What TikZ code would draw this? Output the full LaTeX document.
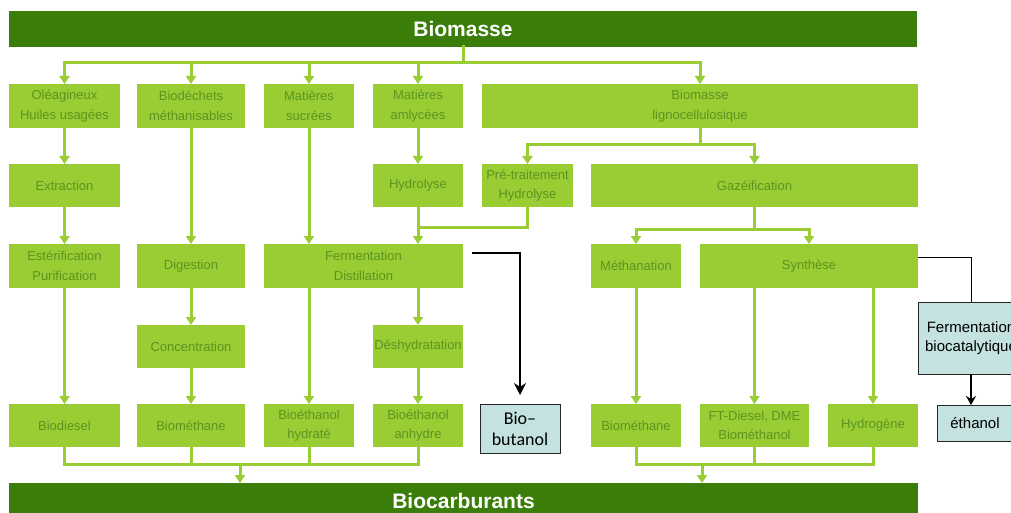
\documentclass[tikz,border=0pt]{standalone}
\usepackage{fontspec}
\setmainfont{Liberation Sans}
\newfontfamily\calib{Carlito}
\usetikzlibrary{arrows.meta,calc}
\definecolor{gfill}{RGB}{154,204,52}
\definecolor{gtext}{RGB}{92,148,32}
\definecolor{gdark}{RGB}{58,125,8}
\definecolor{bfill}{RGB}{196,226,224}
\begin{document}
\begin{tikzpicture}[x=1pt,y=-1pt,
  gbox/.style={fill=gfill, text=gtext, inner sep=0pt, outer sep=0pt, align=center, font=\fontsize{13}{19.5}\selectfont},
  bar/.style={fill=gdark, text=white, inner sep=0pt, outer sep=0pt, font=\fontsize{21}{24}\selectfont\bfseries},
  bbox/.style={fill=bfill, draw=black!85, line width=1pt, inner sep=0pt, outer sep=0pt, align=center},
  gline/.style={draw=gfill, line width=3pt, line cap=rect},
  garr/.style={draw=gfill, line width=3pt, -{Triangle[width=10pt,length=8pt]}},
  barr/.style={draw=black, line width=1.5pt, -{Stealth[width=12pt,length=12pt]}},
  bline/.style={draw=black, line width=1pt},
  barrthick/.style={draw=black, line width=2.5pt, -{Stealth[width=10pt,length=9pt]}}
]
\useasboundingbox (0,0) rectangle (1011,513);
\clip (0,0) rectangle (1011,513);

% bars
\node[bar, minimum width=908pt, minimum height=36pt] (top) at (463,29) {Biomasse};
\node[bar, minimum width=909pt, minimum height=36pt] (bot) at (463.5,501) {Biocarburants};

% row 1
\node[gbox, minimum width=111pt, minimum height=44pt] (ole) at (64.5,106) {Oléagineux\\Huiles usagées};
\node[gbox, minimum width=108pt, minimum height=44pt] (bio) at (191,106) {Biodéchets\\méthanisables};
\node[gbox, minimum width=90pt, minimum height=44pt] (suc) at (309,106) {Matières\\sucrées};
\node[gbox, minimum width=90pt, minimum height=44pt] (amy) at (418,106) {Matières\\amlycées};
\node[gbox, minimum width=436pt, minimum height=44pt] (lig) at (700,106) {Biomasse\\lignocellulosique};

% row 2
\node[gbox, minimum width=111pt, minimum height=43pt] (ext) at (64.5,185.5) {Extraction};
\node[gbox, minimum width=90pt, minimum height=43pt] (hyd) at (418,185.5) {Hydrolyse};
\node[gbox, minimum width=91pt, minimum height=43pt] (pre) at (527.5,185.5) {Pré-traitement\\Hydrolyse};
\node[gbox, minimum width=327pt, minimum height=43pt] (gaz) at (754.5,185.5) {Gazéification};

% row 3
\node[gbox, minimum width=111pt, minimum height=44pt] (est) at (64.5,266) {Estérification\\Purification};
\node[gbox, minimum width=108pt, minimum height=44pt] (dig) at (191,266) {Digestion};
\node[gbox, minimum width=199pt, minimum height=44pt] (fer) at (363.5,266) {Fermentation\\Distillation};
\node[gbox, minimum width=90pt, minimum height=44pt] (met) at (636,266) {Méthanation};
\node[gbox, minimum width=218pt, minimum height=44pt] (syn) at (809,266) {Synthèse};

% row 3b
\node[gbox, minimum width=108pt, minimum height=43pt] (con) at (191,346.5) {Concentration};
\node[gbox, minimum width=90pt, minimum height=43pt] (des) at (418,346.5) {Déshydratation};

% row 4
\node[gbox, minimum width=111pt, minimum height=43pt] (bdi) at (64.5,425.5) {Biodiesel};
\node[gbox, minimum width=108pt, minimum height=43pt] (bme) at (191,425.5) {Biométhane};
\node[gbox, minimum width=90pt, minimum height=43pt] (bhy) at (309,425.5) {Bioéthanol\\hydraté};
\node[gbox, minimum width=90pt, minimum height=43pt] (ban) at (418,425.5) {Bioéthanol\\anhydre};
\node[gbox, minimum width=90pt, minimum height=43pt] (bm2) at (636,425.5) {Biométhane};
\node[gbox, minimum width=109pt, minimum height=43pt] (ftd) at (754.5,425.5) {FT-Diesel, DME\\Biométhanol};
\node[gbox, minimum width=90pt, minimum height=43pt] (hy2) at (873,425.5) {Hydrogène};

% blue boxes
\node[bbox, minimum width=80pt, minimum height=49pt, font=\calib\fontsize{18}{21}\selectfont] (but) at (520,428.5) {Bio–\\butanol};
\node[bbox, minimum width=106pt, minimum height=72pt, font=\fontsize{15}{18.5}\selectfont] (fbc) at (971,338) {Fermentation\\biocatalytique};
\node[bbox, minimum width=76pt, minimum height=36pt, font=\fontsize{15}{18}\selectfont] (eth) at (975,423) {éthanol};

% top branch
\draw[gline] (top.south) -- ++(0,16) coordinate (tj);
\draw[gline] (tj -| ole.north) -- (tj -| lig.north);
\foreach \n in {ole,bio,suc,amy,lig} \draw[garr] (tj -| \n.north) -- (\n.north);

% left columns
\draw[garr] (ole) -- (ext);
\draw[garr] (ext) -- (est);
\draw[garr] (est) -- (bdi);
\draw[garr] (bio) -- (dig);
\draw[garr] (dig) -- (con);
\draw[garr] (con) -- (bme);
\draw[garr] (suc.south) -- (suc.south |- fer.north);
\draw[garr] (amy) -- (hyd);
\draw[garr] (hyd.south) -- (hyd.south |- fer.north);
\draw[gline] (pre.south) |- ($(hyd.south)!0.55!(hyd.south |- fer.north)$);
\draw[garr] (bhy.north |- fer.south) -- (bhy);
\draw[garr] (des.north |- fer.south) -- (des);
\draw[garr] (des) -- (ban);

% lignocellulosic branch
\draw[gline] (lig.south) -- ++(0,17) coordinate (lj);
\draw[gline] (lj -| pre.north) -- (lj -| gaz.north);
\draw[garr] (lj -| pre.north) -- (pre.north);
\draw[garr] (lj -| gaz.north) -- (gaz.north);

% gasification branch
\draw[gline] (gaz.south) -- ++(0,22) coordinate (gj);
\draw[gline] (gj -| met.north) -- (gj -| syn.north);
\draw[garr] (gj -| met.north) -- (met.north);
\draw[garr] (gj -| syn.north) -- (syn.north);
\draw[garr] (met) -- (bm2);
\draw[garr] (ftd.north |- syn.south) -- (ftd);
\draw[garr] (hy2.north |- syn.south) -- (hy2);

% bottom left merge
\draw[gline] (bdi.south) -- ++(0,17) coordinate (lb);
\draw[gline] (lb) -- (lb -| ban.south);
\foreach \n in {bme,bhy,ban} \draw[gline] (\n.south) -- (\n.south |- lb);
\coordinate (la) at (240,0);
\draw[garr] (la |- lb) -- (la |- bot.north);

% bottom right merge
\draw[gline] (bm2.south) -- ++(0,17) coordinate (rb);
\draw[gline] (rb) -- (rb -| hy2.south);
\foreach \n in {ftd,hy2} \draw[gline] (\n.south) -- (\n.south |- rb);
\coordinate (ra) at (702,0);
\draw[garr] (ra |- rb) -- (ra |- bot.north);

% black connectors
\draw[barr, shorten >=9pt] ($(fer.east)+(9,-13)$) -| (but.north);
\draw[bline] ($(syn.east)+(0,-9)$) -| (fbc.north);
\draw[barrthick] (fbc.south) -- (fbc.south |- eth.north);
\end{tikzpicture}
\end{document}
